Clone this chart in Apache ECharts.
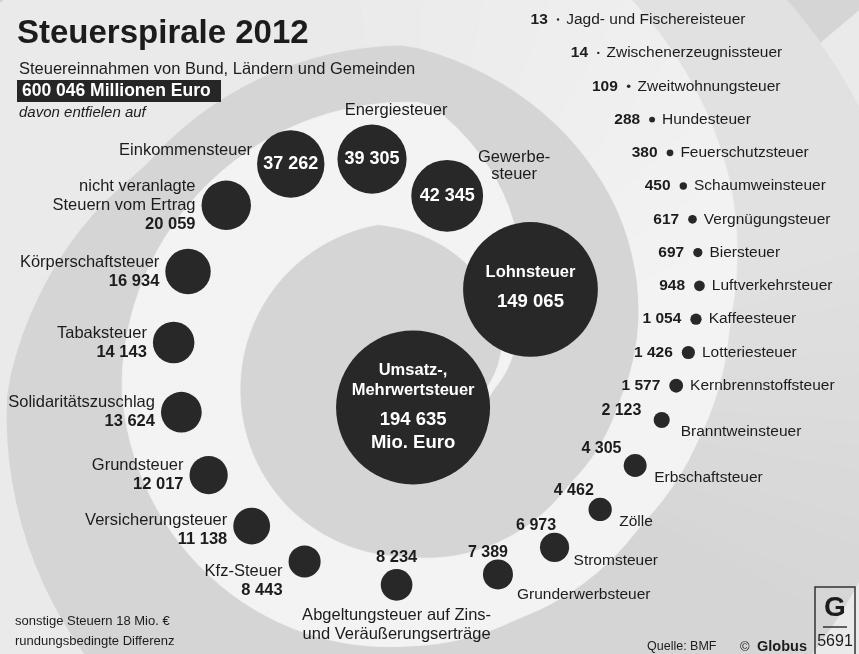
<!DOCTYPE html>
<html><head><meta charset="utf-8">
<script src="https://cdn.jsdelivr.net/npm/echarts@6/dist/echarts.min.js"></script>
<style>html,body{margin:0;padding:0;background:#d5d5d5}#c{width:859px;height:654px}</style>
</head><body><div id="c"></div>
<script>
// ---------- data ----------
const categories = ['Umsatz-,\nMehrwertsteuer', 'Lohnsteuer', 'Gewerbe-\nsteuer', 'Energiesteuer', 'Einkommensteuer',
  'nicht veranlagte\nSteuern vom Ertrag', 'Körperschaftsteuer', 'Tabaksteuer', 'Solidaritätszuschlag', 'Grundsteuer',
  'Versicherungsteuer', 'Kfz-Steuer', 'Abgeltungsteuer auf Zins-\nund Veräußerungserträge', 'Grunderwerbsteuer', 'Stromsteuer',
  'Zölle', 'Erbschaftsteuer', 'Branntweinsteuer', 'Kernbrennstoffsteuer', 'Lotteriesteuer',
  'Kaffeesteuer', 'Luftverkehrsteuer', 'Biersteuer', 'Vergnügungsteuer', 'Schaumweinsteuer',
  'Feuerschutzsteuer', 'Hundesteuer', 'Zweitwohnungsteuer', 'Zwischenerzeugnissteuer', 'Jagd- und Fischereisteuer'];
const values = [194635, 149065, 42345, 39305, 37262, 20059, 16934, 14143, 13624, 12017,
  11138, 8443, 8234, 7389, 6973, 4462, 4305, 2123, 1577, 1426,
  1054, 948, 697, 617, 450, 380, 288, 109, 14, 13];
const labelKinds = ['center', 'center', 'valueInRight', 'valueInTop', 'valueInLeft',
  'left', 'left', 'left', 'left', 'left', 'left', 'left', 'below',
  'rightBelow', 'rightBelow', 'rightBelow', 'rightBelow', 'rightBelow',
  'row', 'row', 'row', 'row', 'row', 'row', 'row', 'row', 'row', 'row', 'row', 'row'];
const unitLabel = 'Mio. Euro';
const titleText = 'Steuerspirale 2012';
const subtitleText = 'Steuereinnahmen von Bund, Ländern und Gemeinden';
const totalText = '600 046 Millionen Euro';
const introText = 'davon entfielen auf';
const noteLines = ['sonstige Steuern 18 Mio. €', 'rundungsbedingte Differenz'];
const sourceText = 'Quelle: BMF';
const creditText = 'Globus';
const badgeText = '5691';

// ---------- layout helpers ----------
const FONT = '"Liberation Sans", Arial, Helvetica, sans-serif';
const fmt = v => String(v).replace(/\B(?=(\d{3})+(?!\d))/g, ' ');
const maxVal = Math.max(...values);
const MAX_R = 77;
const radii = values.map(v => Math.max(MAX_R * Math.sqrt(v / maxVal), 1.2));

function lerpKnots(k, t) {
  if (t <= k[0][0]) return k[0][1];
  for (let i = 0; i < k.length - 1; i++) {
    const a = k[i], b = k[i + 1];
    if (t <= b[0]) return a[1] + (b[1] - a[1]) * (t - a[0]) / (b[0] - a[0]);
  }
  const a = k[k.length - 2], b = k[k.length - 1];
  return b[1] + (b[1] - a[1]) * (t - b[0]) / (b[0] - a[0]);
}
// spiral guide path of the bubbles (polar, degrees counter-clockwise)
const BUBBLE_CENTER = [405, 350];
const BUBBLE_GUIDE = [[-82, 58], [25, 139], [75, 160], [100, 194], [121, 218], [141, 230], [268, 235], [330, 255], [350, 270], [372, 301], [425, 364], [445, 385]];
function guide(t) {
  const r = lerpKnots(BUBBLE_GUIDE, t), a = t * Math.PI / 180;
  return { t, r, x: BUBBLE_CENTER[0] + r * Math.cos(a), y: BUBBLE_CENTER[1] - r * Math.sin(a) };
}
const INNER_KINDS = ['center', 'valueInRight', 'valueInTop', 'valueInLeft'];
function gapBetween(k1, k2) {
  if (k1 === 'center' || k2 === 'center') return 22;
  if (INNER_KINDS.includes(k1) && INNER_KINDS.includes(k2)) return 13;
  if (INNER_KINDS.includes(k1) && k2 === 'left') return 18;
  if (k1 === 'left' && k2 === 'left') return 29;
  if (k2 === 'below') return 63;
  if (k1 === 'below') return 71;
  if (k1 === 'rightBelow' && k2 === 'rightBelow') return 33;
  return 22;
}
const ROW_STEP = 33.2;
const pos = [guide(-82)];
for (let i = 1; i < values.length; i++) {
  const prev = pos[i - 1];
  let t = prev.t, q;
  if (labelKinds[i] === 'row' && labelKinds[i - 1] === 'row') {
    const ty = prev.y - ROW_STEP;
    do { t += 0.05; q = guide(t); } while (q.y > ty);
  } else {
    const need = radii[i - 1] + radii[i] + gapBetween(labelKinds[i - 1], labelKinds[i]);
    do { t += 0.05; q = guide(t); } while (Math.hypot(q.x - prev.x, q.y - prev.y) < need);
  }
  pos.push(q);
}
const angleOf = i => ((pos[i].t % 360) + 360) % 360;

// ---------- labels ----------
const TXT = '#1c1c1c';
const base = { fontFamily: FONT, color: TXT };
function primaryLabel(i) {
  const k = labelKinds[i], v = fmt(values[i]), n = categories[i];
  if (k === 'center') {
    const lines = n.split('\n').map(s => '{n|' + s + '}');
    const vals = ['{v|' + v + '}'];
    if (i === 0) vals.push('{v|' + unitLabel + '}');
    return {
      show: true, position: 'inside', formatter: lines.concat(['{s|}'], vals).join('\n'),
      offset: [0, i === 0 ? 0 : -2],
      rich: {
        n: { fontFamily: FONT, fontSize: 16.5, fontWeight: 'bold', color: '#fff', lineHeight: 20 },
        s: { fontSize: 4, lineHeight: 8 },
        v: { fontFamily: FONT, fontSize: 18.5, fontWeight: 'bold', color: '#fff', lineHeight: 23 }
      }
    };
  }
  if (INNER_KINDS.includes(k)) {
    return { show: true, position: 'inside', formatter: v, fontFamily: FONT, fontSize: 18, fontWeight: 'bold', color: '#fff' };
  }
  if (k === 'left') {
    return {
      show: true, position: 'left', distance: 6, align: 'right', offset: [0, Math.max(0, angleOf(i) - 225)],
      formatter: n.split('\n').map(s => '{n|' + s + '}').join('\n') + '\n{v|' + v + '}',
      rich: {
        n: Object.assign({ fontSize: 16.5, lineHeight: 19, align: 'right' }, base),
        v: Object.assign({ fontSize: 16.5, fontWeight: 'bold', lineHeight: 19, align: 'right' }, base)
      }
    };
  }
  if (k === 'below') {
    return Object.assign({ show: true, position: 'top', distance: 3, formatter: v, fontSize: 16.5, fontWeight: 'bold' }, base);
  }
  if (k === 'rightBelow') {
    const a = angleOf(i);
    return Object.assign({ show: true, position: ['50%', 0], align: 'right', verticalAlign: 'bottom',
      offset: [8 - (a - 296) * 0.58, 1 + Math.max(0, a - 330) * 0.4],
      formatter: v, fontSize: 16, fontWeight: 'bold' }, base);
  }
  return Object.assign({ show: true, position: 'left', distance: 9, formatter: v, fontSize: 15.5, fontWeight: 'bold' }, base);
}
function secondaryLabel(i) {
  const k = labelKinds[i], n = categories[i];
  const s = Object.assign({ show: true, formatter: n, fontSize: 16.5, lineHeight: 17 }, base);
  if (k === 'valueInRight') return Object.assign(s, { position: 'right', distance: 5, offset: [26, -30], align: 'center' });
  if (k === 'valueInTop') return Object.assign(s, { position: 'top', distance: 6, offset: [24, 0] });
  if (k === 'valueInLeft') return Object.assign(s, { position: 'left', distance: 5, offset: [0, -13] });
  if (k === 'below') return Object.assign(s, { position: 'bottom', distance: 5, align: 'center', lineHeight: 19 });
  if (k === 'rightBelow') {
    const a = angleOf(i);
    return Object.assign(s, { position: 'right', distance: Math.max(3, 19 - radii[i]), offset: [0, 12 + Math.max(0, 310 - a) * 0.5], fontSize: 15.5 });
  }
  if (k === 'row') return Object.assign(s, { position: 'right', distance: 7, fontSize: 15.5 });
  return { show: false };
}
const polarValue = p => [p.r, ((p.t % 360) + 360) % 360];
const bubbleData = pos.map((p, i) => ({ name: categories[i], value: polarValue(p), symbolSize: radii[i] * 2, label: primaryLabel(i) }));
const nameData = pos.map((p, i) => ({ name: categories[i], value: polarValue(p), symbolSize: radii[i] * 2, label: secondaryLabel(i) }));

// ---------- background spiral (decoration) ----------
const BG_CENTER = [407, 390];
const W_IN = [[-8, 80], [0, 78], [26, 106], [65, 140], [100, 168], [180, 167], [270, 167], [330, 188], [357, 213], [400, 276], [450, 345], [500, 345], [540, 400], [630, 440], [760, 540]];
const W_OUT = [[-8, 80], [0, 86], [26, 122], [45, 160], [58, 200], [86, 288], [180, 285], [270, 256], [296, 254], [330, 270], [350, 295], [372, 330], [392, 382], [420, 450], [450, 520], [540, 600], [760, 760]];
function bgPt(r, t) { const a = t * Math.PI / 180; return [BG_CENTER[0] + r * Math.cos(a), BG_CENTER[1] - r * Math.sin(a)]; }
function mix(c1, c2, f) { const g = Math.round(c1 + (c2 - c1) * Math.min(1, Math.max(0, f))); return 'rgb(' + g + ',' + g + ',' + g + ')'; }
function band(innerFn, outerFn, t0, t1, step, colorFn, z) {
  const els = [];
  for (let t = t0; t < t1; t += step) {
    const ta = t, tb = Math.min(t + step, t1);
    const pts = [bgPt(outerFn(ta), ta), bgPt(outerFn(tb), tb), bgPt(innerFn(tb), tb), bgPt(innerFn(ta), ta)];
    const c = colorFn((ta + tb) / 2);
    els.push({ type: 'polygon', silent: true, shape: { points: pts }, style: { fill: c, stroke: c, lineWidth: 0.8 }, z });
  }
  return els;
}
const whiteColor = t => mix(243, 234, (t - 380) / 80);
const grayColor = t => mix(213, 225, (t - 330) / 50);
const bgElements = [{ type: 'rect', shape: { x: 0, y: 0, width: 859, height: 654 }, style: { fill: '#d5d5d5' }, z: -20 }]
  .concat(band(t => lerpKnots(W_OUT, t), t => lerpKnots(W_IN, t + 360), 200, 420, 3, grayColor, -19))
  .concat(band(t => lerpKnots(W_IN, t), t => lerpKnots(W_OUT, t), -8, 760, 3, whiteColor, -18));
function txt(text, x, y, font, extra) {
  return Object.assign({ type: 'text', x, y, z: 50, style: Object.assign({ text, font, fill: TXT, align: 'left', verticalAlign: 'middle', textAlign: 'left', textVerticalAlign: 'middle' }, extra || {}) });
}
const fg = [
  txt(titleText, 17, 34, 'bold 33px ' + FONT),
  txt(subtitleText, 19, 69, '16.5px ' + FONT),
  { type: 'rect', shape: { x: 17, y: 80, width: 204, height: 22 }, style: { fill: '#262626' }, z: 49 },
  txt(totalText, 22, 91.5, 'bold 17.5px ' + FONT, { fill: '#fff' }),
  txt(introText, 19, 113, 'italic 15px ' + FONT),
  txt(noteLines[0], 15, 621, '13px ' + FONT),
  txt(noteLines[1], 15, 641, '13px ' + FONT),
  txt(sourceText, 647, 647, '12.5px ' + FONT),
  txt('©', 740, 647, '13px ' + FONT),
  txt(creditText, 757, 647, 'bold 14.5px ' + FONT),
  { type: 'rect', shape: { x: 815, y: 587, width: 40, height: 70 }, style: { fill: 'none', stroke: '#333', lineWidth: 1.5 }, z: 50 },
  txt('G', 835, 608, 'bold 28px ' + FONT, { align: 'center', textAlign: 'center' }),
  { type: 'line', shape: { x1: 823, y1: 627, x2: 847, y2: 627 }, style: { stroke: '#333', lineWidth: 1.5 }, z: 50 },
  txt(badgeText, 835, 642, '16px ' + FONT, { align: 'center', textAlign: 'center' })
];

const chart = echarts.init(document.getElementById('c'), null, { renderer: 'canvas' });
chart.setOption({
  animation: false,
  backgroundColor: '#d5d5d5',
  polar: { center: BUBBLE_CENTER, radius: 500 },
  radiusAxis: { type: 'value', min: 0, max: 500, show: false },
  angleAxis: { type: 'value', min: 0, max: 360, startAngle: 0, clockwise: false, show: false },
  graphic: { elements: bgElements.concat(fg) },
  series: [
    { type: 'scatter', coordinateSystem: 'polar', symbol: 'circle', silent: true, z: 3,
      itemStyle: { color: '#282828', opacity: 1 }, data: bubbleData },
    { type: 'scatter', coordinateSystem: 'polar', symbol: 'circle', silent: true, z: 4,
      itemStyle: { color: 'rgba(0,0,0,0)', opacity: 1 }, data: nameData }
  ]
});
</script>
</body></html>
